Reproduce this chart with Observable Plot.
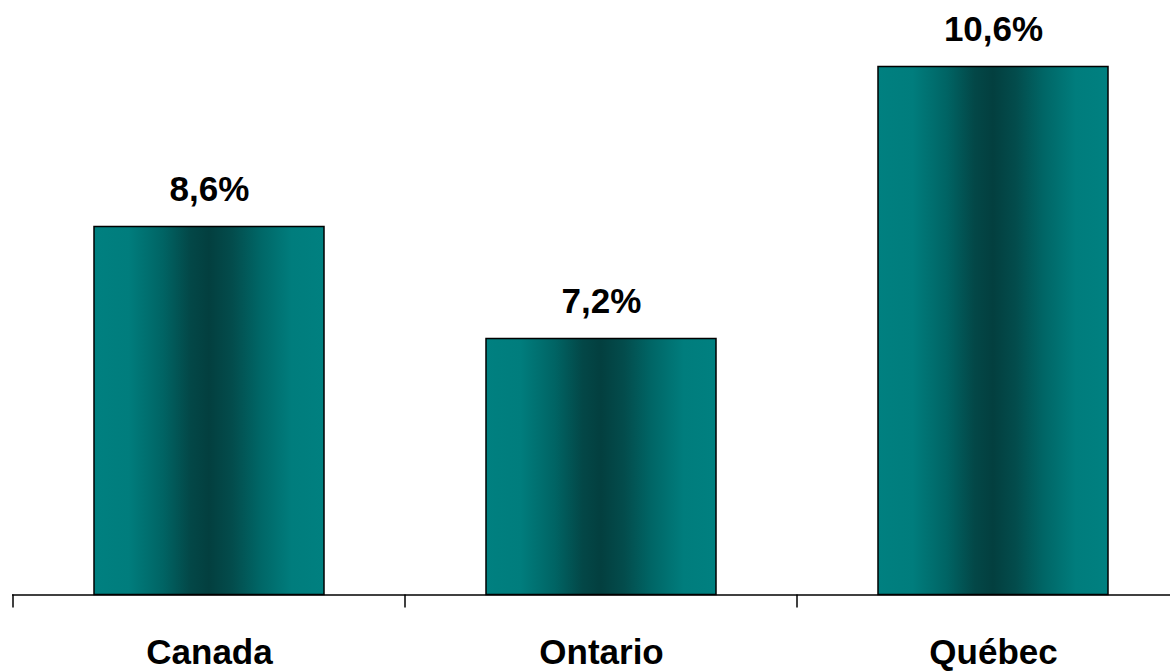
<!DOCTYPE html>
<html>
<head>
<meta charset="utf-8">
<script src="https://cdn.jsdelivr.net/npm/d3@7"></script>
<script src="https://cdn.jsdelivr.net/npm/@observablehq/plot@0.6"></script>
<style>
  html, body { margin: 0; padding: 0; background: white; overflow: hidden; }
  #chart svg { overflow: visible; }
</style>
</head>
<body>
<div id="chart"></div>
<script>
const categories = ["Canada", "Ontario", "Québec"];
const values = [8.6, 7.2, 10.6];
const valueLabels = ["8,6%", "7,2%", "10,6%"];
const yBase = 4;

const data = categories.map((c, i) => ({category: c, value: values[i], label: valueLabels[i]}));

const font = "'Liberation Sans', Arial, sans-serif";

function gradientDefs() {
  const defs = d3.create("svg:defs");
  const g = defs.append("linearGradient").attr("id", "barGrad")
    .attr("x1", "0%").attr("x2", "100%").attr("y1", "0%").attr("y2", "0%");
  [[0, "#008080"], [0.15, "#007d7d"], [0.3, "#006464"], [0.42, "#034747"], [0.5, "#033f3f"],
   [0.6, "#034c4c"], [0.72, "#006666"], [0.86, "#007d7d"], [1, "#008080"]]
    .forEach(([o, c]) => g.append("stop").attr("offset", o).attr("stop-color", c));
  return defs.node();
}

function bandTicks(index, scales) {
  const x = scales.x;
  const step = x.step();
  const y0 = scales.y(yBase);
  const edges = categories.map(c => x(c)).concat([x(categories[categories.length - 1]) + step]);
  const g = d3.create("svg:g").attr("stroke", "black").attr("stroke-width", 1.5);
  edges.forEach(e => g.append("line").attr("x1", e).attr("x2", e).attr("y1", y0).attr("y2", y0 + 13));
  return g.node();
}

const chart = Plot.plot({
  width: 1170,
  height: 672,
  marginLeft: 12,
  marginRight: -19.5,
  marginTop: 2.5,
  marginBottom: 77.5,
  style: {fontFamily: font, background: "white"},
  x: {domain: categories, padding: 0, label: null},
  y: {domain: [yBase, 11.4], axis: null},
  marks: [
    gradientDefs,
    Plot.barY(data, {x: "category", y1: yBase, y2: "value", fill: "url(#barGrad)", stroke: "black", strokeWidth: 1.5, insetLeft: 81, insetRight: 81}),
    Plot.ruleY([yBase], {stroke: "black", strokeWidth: 1.5}),
    bandTicks,
    Plot.text(data, {x: "category", y: "value", text: "label", lineAnchor: "bottom", dy: -26, fontSize: 35, fontWeight: "bold", fill: "black"}),
    Plot.axisX({tickSize: 0, tickPadding: 44, fontSize: 35, fontWeight: "bold", fill: "black", label: null})
  ]
});
document.getElementById("chart").append(chart);
</script>
</body>
</html>
